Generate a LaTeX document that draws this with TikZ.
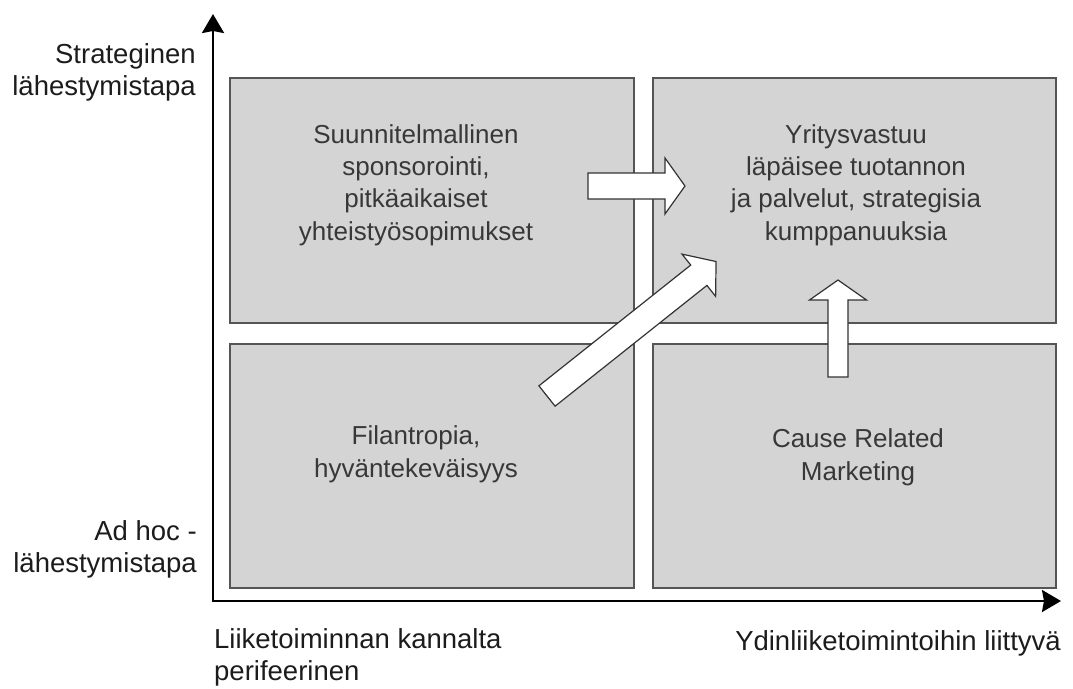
\documentclass[tikz,border=0pt]{standalone}
\usepackage{fontspec}
\setmainfont{Liberation Sans}
\usetikzlibrary{arrows.meta}
\definecolor{boxfill}{HTML}{D4D4D5}
\definecolor{boxline}{HTML}{555555}
\definecolor{boxtext}{HTML}{383838}
\definecolor{axistext}{HTML}{1C1C1C}
\tikzset{
  quad/.style={draw=boxline, line width=1.4pt, fill=boxfill, inner sep=0pt},
  quadtext/.style={font=\fontsize{26}{32.3}\selectfont, text=boxtext, align=center, anchor=base, inner sep=0pt},
  axislabel/.style={font=\fontsize{27.5}{32}\selectfont, text=axistext, inner sep=0pt},
  blockarrow/.style={draw=black!80, line width=1.2pt, fill=white, line join=miter},
  axisline/.style={line width=2.4pt, black, line join=miter},
  axistip/.tip={Stealth[length=19pt,width=22pt,inset=2pt]},
  pics/blockarr/.style n args={4}{code={
    \draw[blockarrow] (0,-#2/2) -- (#1-#4,-#2/2) -- (#1-#4,-#3/2) -- (#1,0)
      -- (#1-#4,#3/2) -- (#1-#4,#2/2) -- (0,#2/2) -- cycle;
  }},
}
\begin{document}
\begin{tikzpicture}[x=1pt,y=-1pt]
\useasboundingbox (0,0) rectangle (1073,688);
% quadrants
\node[quad, minimum width=404pt, minimum height=245pt] (tl) at (432,200.5) {};
\node[quad, minimum width=403pt, minimum height=245pt] (tr) at (854.5,200.5) {};
\node[quad, minimum width=404pt, minimum height=244pt] (bl) at (432,466) {};
\node[quad, minimum width=403pt, minimum height=244pt] (br) at (854.5,466) {};
% texts (anchor = baseline of the last line)
\node[quadtext] (tltext) at (416,240) {Suunnitelmallinen\\sponsorointi,\\pitkäaikaiset\\yhteistyösopimukset};
\node[quadtext] (trtext) at (856,240) {Yritysvastuu\\läpäisee tuotannon\\ja palvelut, strategisia\\kumppanuuksia};
\node[quadtext] (bltext) at (416,477) {Filantropia,\\hyväntekeväisyys};
\node[quadtext] (brtext) at (858,480) {Cause Related\\Marketing};
% block arrows
\coordinate (a1) at (588,186);
\coordinate (a2) at (838,377);
\coordinate (a3) at (547,396);
\pic at (a1) {blockarr={97}{26}{56}{20}};
\pic[rotate=90] at (a2) {blockarr={97}{20}{57}{20}};
\pic[rotate=38.5] at (a3) {blockarr={216}{26}{54}{22}};
% axes
\coordinate (origin) at (213,601);
\coordinate (ytip) at (213,14);
\coordinate (xtip) at (1061,601);
\draw[axisline, axistip-axistip] (ytip) |- (xtip);
% axis labels
\node[axislabel, align=right, anchor=base east] (ytop) at (196,95) {Strateginen\\lähestymistapa};
\node[axislabel, align=right, anchor=base east] (ybot) at (197,572) {Ad hoc -\\lähestymistapa};
\node[axislabel, align=left, anchor=base west] (xleft) at (214,680) {Liiketoiminnan kannalta\\perifeerinen};
\node[axislabel, anchor=base east] (xright) at (1061,650) {Ydinliiketoimintoihin liittyvä};
\end{tikzpicture}
\end{document}
